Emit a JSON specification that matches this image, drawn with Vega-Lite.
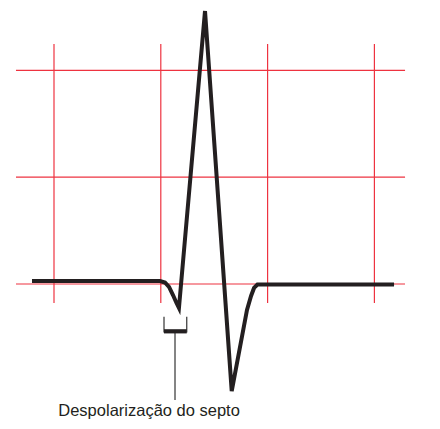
{
  "$schema": "https://vega.github.io/schema/vega-lite/v6.json",
  "width": 440,
  "height": 429,
  "autosize": {"type": "fit", "contains": "padding"},
  "padding": 0,
  "background": "white",
  "config": {"view": {"stroke": null}},
  "datasets": {
    "grid": [
      {"x": 0, "x2": 0, "y": -0.178, "y2": 2.247},
      {"x": 1, "x2": 1, "y": -0.178, "y2": 2.247},
      {"x": 2, "x2": 2, "y": -0.178, "y2": 2.247},
      {"x": 3, "x2": 3, "y": -0.178, "y2": 2.247},
      {"x": -0.356, "x2": 3.287, "y": 0, "y2": 0},
      {"x": -0.356, "x2": 3.287, "y": 1, "y2": 1},
      {"x": -0.356, "x2": 3.287, "y": 2, "y2": 2}
    ],
    "ecg": [
      {"i": 0, "t": -0.206, "v": 0.028},
      {"i": 1, "t": 0.993, "v": 0.028},
      {"i": 2, "t": 1.039, "v": 0.014},
      {"i": 3, "t": 1.077, "v": -0.028},
      {"i": 4, "t": 1.114, "v": -0.103},
      {"i": 5, "t": 1.147, "v": -0.178},
      {"i": 6, "t": 1.17, "v": -0.225},
      {"i": 7, "t": 1.414, "v": 2.556},
      {"i": 8, "t": 1.664, "v": -1.002},
      {"i": 9, "t": 1.807, "v": -0.243},
      {"i": 10, "t": 1.845, "v": -0.112},
      {"i": 11, "t": 1.873, "v": -0.037},
      {"i": 12, "t": 1.905, "v": -0.005},
      {"i": 13, "t": 3.184, "v": -0.005}
    ],
    "thin": [
      {"x": 1.03, "x2": 1.03, "y": -0.306, "y2": -0.455},
      {"x": 1.243, "x2": 1.243, "y": -0.306, "y2": -0.455},
      {"x": 1.133, "x2": 1.133, "y": -0.455, "y2": -1.086}
    ],
    "bar": [
      {"x": 1.03, "x2": 1.243, "y": -0.443, "y2": -0.443}
    ],
    "label": [
      {"x": 0.04, "y": -1.238, "text": "Despolarização do septo"}
    ]
  },
  "layer": [
    {
      "data": {"name": "grid"},
      "mark": {"type": "rule", "color": "#ee3340", "strokeWidth": 1.2},
      "encoding": {
        "x": {"field": "x", "type": "quantitative", "scale": {"domain": [-0.5056, 3.6142], "nice": false, "zero": false}, "axis": null},
        "x2": {"field": "x2"},
        "y": {"field": "y", "type": "quantitative", "scale": {"domain": [-1.3577, 2.6592], "nice": false, "zero": false}, "axis": null},
        "y2": {"field": "y2"}
      }
    },
    {
      "data": {"name": "thin"},
      "mark": {"type": "rule", "color": "#333333", "strokeWidth": 1.2},
      "encoding": {
        "x": {"field": "x", "type": "quantitative"},
        "x2": {"field": "x2"},
        "y": {"field": "y", "type": "quantitative"},
        "y2": {"field": "y2"}
      }
    },
    {
      "data": {"name": "bar"},
      "mark": {"type": "rule", "color": "#231f20", "strokeWidth": 4.2},
      "encoding": {
        "x": {"field": "x", "type": "quantitative"},
        "x2": {"field": "x2"},
        "y": {"field": "y", "type": "quantitative"},
        "y2": {"field": "y2"}
      }
    },
    {
      "data": {"name": "ecg"},
      "mark": {"type": "line", "color": "#231f20", "strokeWidth": 4, "strokeJoin": "miter", "strokeCap": "butt"},
      "encoding": {
        "x": {"field": "t", "type": "quantitative"},
        "y": {"field": "v", "type": "quantitative"},
        "order": {"field": "i", "type": "quantitative"}
      }
    },
    {
      "data": {"name": "label"},
      "mark": {"type": "text", "align": "left", "baseline": "alphabetic", "font": "Liberation Sans", "fontSize": 16.5, "color": "#231f20"},
      "encoding": {
        "x": {"field": "x", "type": "quantitative"},
        "y": {"field": "y", "type": "quantitative"},
        "text": {"field": "text"}
      }
    }
  ]
}
